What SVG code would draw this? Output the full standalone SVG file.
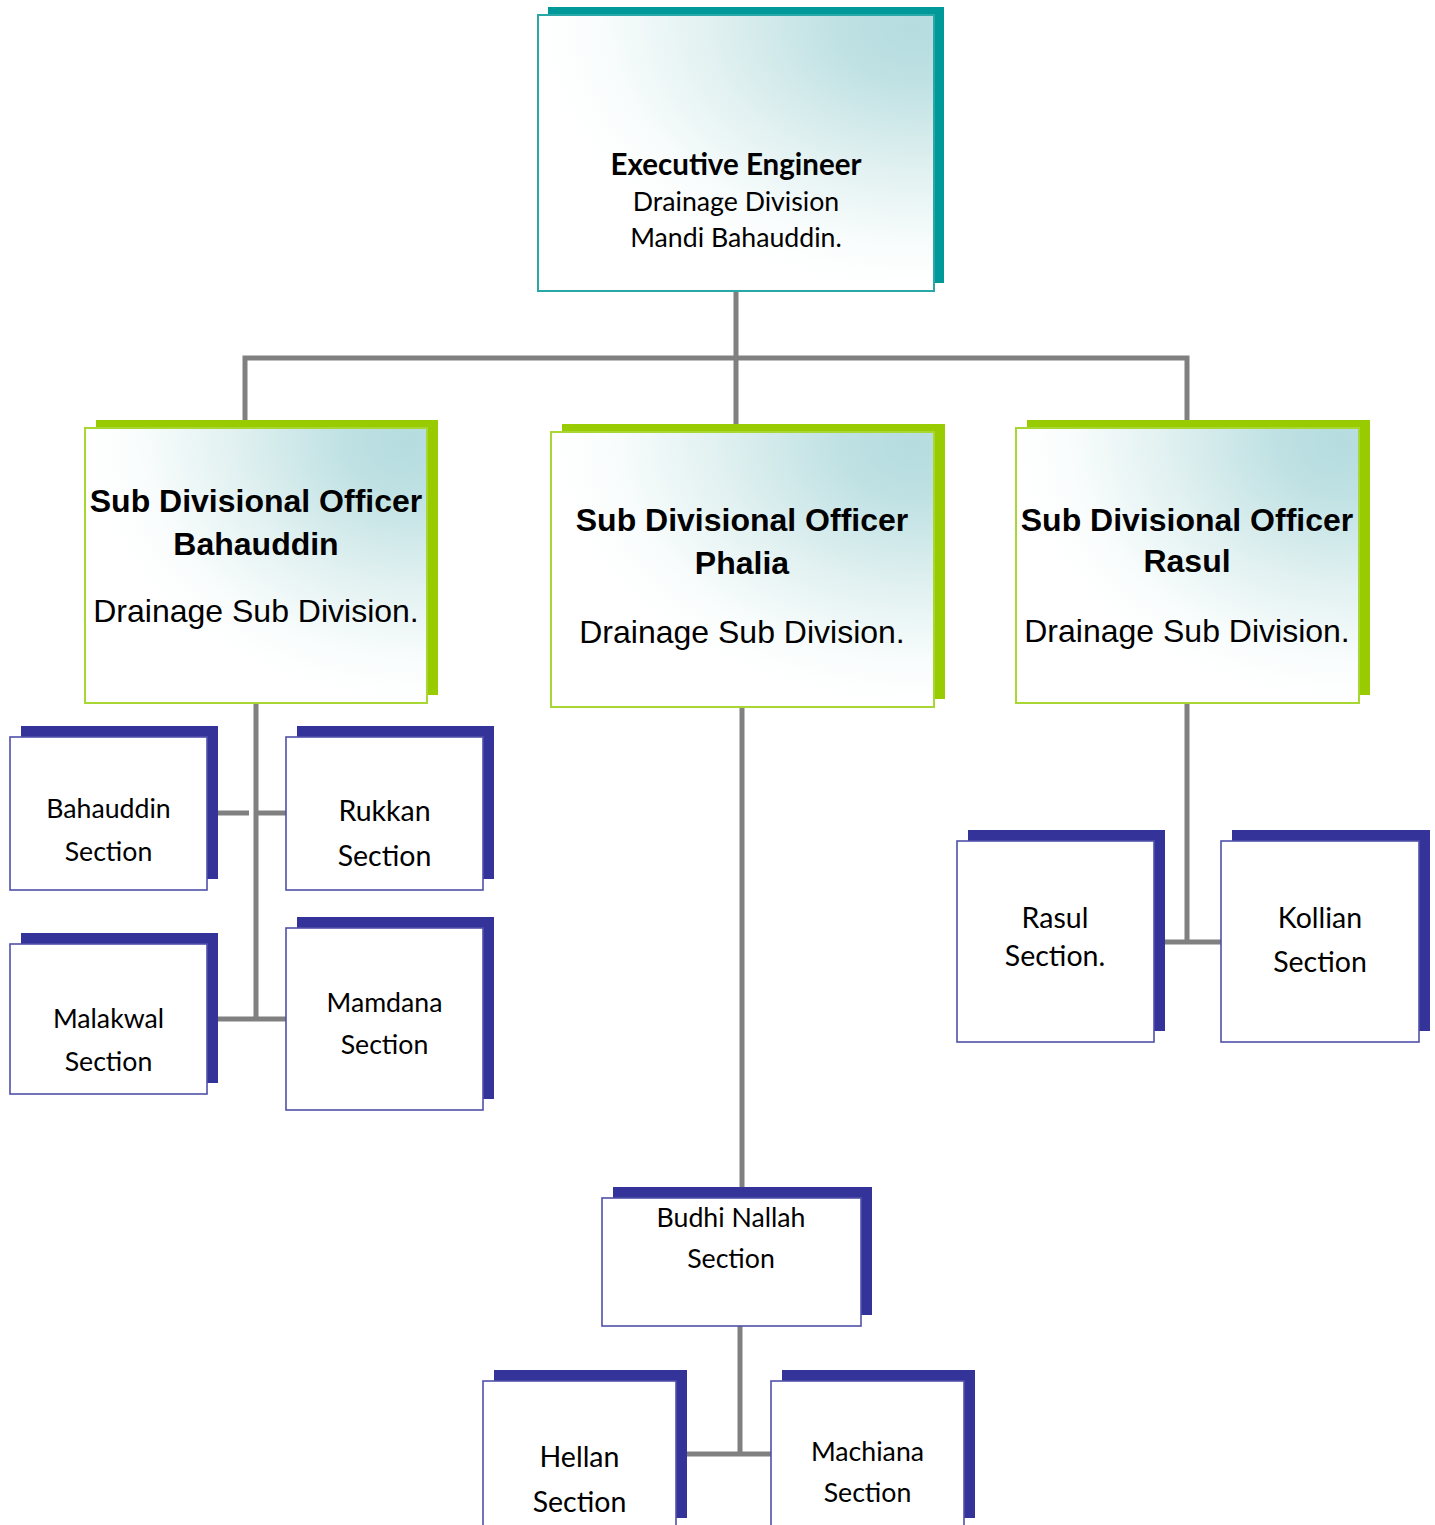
<svg xmlns="http://www.w3.org/2000/svg" width="1435" height="1525" viewBox="0 0 1435 1525">
<defs>
<radialGradient id="g" cx="1" cy="0" r="1" fx="0.95" fy="0.05">
<stop offset="0" stop-color="#b5dcdf"/>
<stop offset="0.2" stop-color="#bfe1e3"/>
<stop offset="0.55" stop-color="#e2f1f1"/>
<stop offset="0.85" stop-color="#fafdfd"/>
<stop offset="1" stop-color="#ffffff"/>
</radialGradient>
<style>
.bg{fill:#ffffff}
.sh-t{fill:#009999}
.fr-t{fill:url(#g);stroke:#2aa7a7;stroke-width:2}
.sh-g{fill:#99cc00}
.fr-g{fill:url(#g);stroke:#a8d632;stroke-width:2}
.sh-b{fill:#333399}
.fr-b{fill:#ffffff;stroke:#5050aa;stroke-width:1.6}
.c{fill:none;stroke:#808080;stroke-width:5;stroke-linejoin:miter}
.cal{font-family:Lato,"Open Sans","DejaVu Sans",sans-serif;fill:#000;text-anchor:middle}
.ar{font-family:"Liberation Sans",Arial,sans-serif;fill:#000;text-anchor:middle;font-size:32px}
.b{font-weight:bold}
.s1{font-size:26.7px}
.s2{font-size:28.5px}
</style>
</defs>
<rect class="bg" x="0" y="0" width="1435" height="1525"/>
<g id="connectors">
<polyline class="c" points="245,428 245,358 1187,358 1187,428"/>
<line class="c" x1="736" y1="291" x2="736" y2="432"/>
<line class="c" x1="256" y1="703" x2="256" y2="1019"/>
<line class="c" x1="218" y1="813" x2="249" y2="813"/>
<line class="c" x1="256" y1="813" x2="286" y2="813"/>
<line class="c" x1="218" y1="1019" x2="286" y2="1019"/>
<line class="c" x1="742" y1="707" x2="742" y2="1198"/>
<line class="c" x1="740" y1="1326" x2="740" y2="1456"/>
<line class="c" x1="687" y1="1454" x2="771" y2="1454"/>
<line class="c" x1="1187" y1="703" x2="1187" y2="944"/>
<line class="c" x1="1163" y1="942" x2="1221" y2="942"/>
</g>
<g id="executive-engineer">
<rect class="sh-t" x="548" y="7" width="396" height="276"/>
<rect class="fr-t" x="538" y="15" width="396" height="276"/>
<text class="cal"><tspan class="b" x="736" y="175" font-size="29.5">Executive Engineer</tspan><tspan x="736" y="211" font-size="26.7">Drainage Division</tspan><tspan x="736" y="247" font-size="26.7">Mandi Bahauddin.</tspan></text>
</g>
<g id="sdo-bahauddin">
<rect class="sh-g" x="96" y="420" width="342" height="275"/>
<rect class="fr-g" x="85" y="428" width="342" height="275"/>
<text class="ar"><tspan class="b" x="256" y="512">Sub Divisional Officer</tspan><tspan class="b" x="256" y="555">Bahauddin</tspan><tspan x="256" y="622">Drainage Sub Division.</tspan></text>
</g>
<g id="sdo-phalia">
<rect class="sh-g" x="562" y="424" width="383" height="275"/>
<rect class="fr-g" x="551" y="432" width="383" height="275"/>
<text class="ar"><tspan class="b" x="742" y="531">Sub Divisional Officer</tspan><tspan class="b" x="742" y="574">Phalia</tspan><tspan x="742" y="643">Drainage Sub Division.</tspan></text>
</g>
<g id="sdo-rasul">
<rect class="sh-g" x="1027" y="420" width="343" height="275"/>
<rect class="fr-g" x="1016" y="428" width="343" height="275"/>
<text class="ar"><tspan class="b" x="1187" y="531">Sub Divisional Officer</tspan><tspan class="b" x="1187" y="572">Rasul</tspan><tspan x="1187" y="642">Drainage Sub Division.</tspan></text>
</g>
<g id="bahauddin-section">
<rect class="sh-b" x="21" y="726" width="197" height="153"/>
<rect class="fr-b" x="10" y="737" width="197" height="153"/>
<text class="cal s1"><tspan x="108.5" y="818">Bahauddin</tspan><tspan x="108.5" y="861">Section</tspan></text>
</g>
<g id="rukkan-section">
<rect class="sh-b" x="297" y="726" width="197" height="153"/>
<rect class="fr-b" x="286" y="737" width="197" height="153"/>
<text class="cal s2"><tspan x="384.5" y="821">Rukkan</tspan><tspan x="384.5" y="866">Section</tspan></text>
</g>
<g id="malakwal-section">
<rect class="sh-b" x="21" y="933" width="197" height="150"/>
<rect class="fr-b" x="10" y="944" width="197" height="150"/>
<text class="cal s1"><tspan x="108.5" y="1028">Malakwal</tspan><tspan x="108.5" y="1071">Section</tspan></text>
</g>
<g id="mamdana-section">
<rect class="sh-b" x="297" y="917" width="197" height="182"/>
<rect class="fr-b" x="286" y="928" width="197" height="182"/>
<text class="cal s1"><tspan x="384.5" y="1012">Mamdana</tspan><tspan x="384.5" y="1054">Section</tspan></text>
</g>
<g id="rasul-section">
<rect class="sh-b" x="968" y="830" width="197" height="201"/>
<rect class="fr-b" x="957" y="841" width="197" height="201"/>
<text class="cal s2"><tspan x="1055" y="928">Rasul</tspan><tspan x="1055" y="966">Section.</tspan></text>
</g>
<g id="kollian-section">
<rect class="sh-b" x="1232" y="830" width="198" height="201"/>
<rect class="fr-b" x="1221" y="841" width="198" height="201"/>
<text class="cal s2"><tspan x="1320" y="928">Kollian</tspan><tspan x="1320" y="972">Section</tspan></text>
</g>
<g id="budhi-nallah-section">
<rect class="sh-b" x="613" y="1187" width="259" height="128"/>
<rect class="fr-b" x="602" y="1198" width="259" height="128"/>
<text class="cal s1"><tspan x="731" y="1227">Budhi Nallah</tspan><tspan x="731" y="1268">Section</tspan></text>
</g>
<g id="hellan-section">
<rect class="sh-b" x="494" y="1370" width="193" height="148"/>
<rect class="fr-b" x="483" y="1381" width="193" height="160"/>
<text class="cal s2"><tspan x="579.5" y="1467">Hellan</tspan><tspan x="579.5" y="1512">Section</tspan></text>
</g>
<g id="machiana-section">
<rect class="sh-b" x="782" y="1370" width="193" height="148"/>
<rect class="fr-b" x="771" y="1381" width="193" height="160"/>
<text class="cal s1"><tspan x="867.5" y="1461">Machiana</tspan><tspan x="867.5" y="1502">Section</tspan></text>
</g>
</svg>
